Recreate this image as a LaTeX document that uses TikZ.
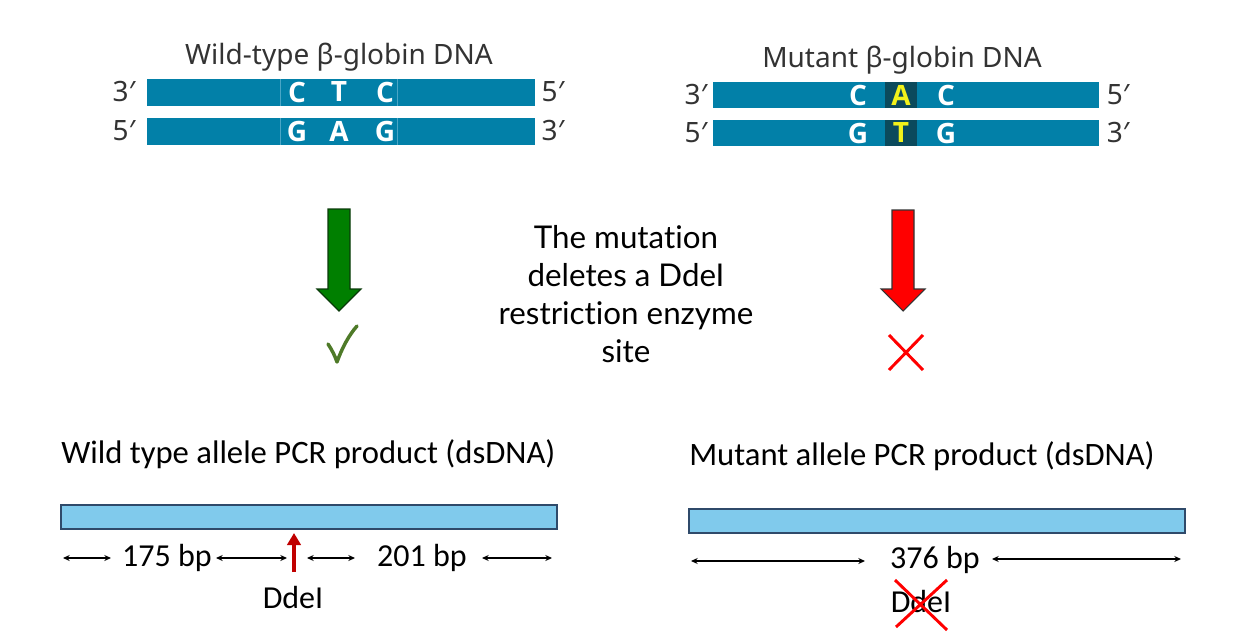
\documentclass[tikz,border=0pt]{standalone}
\usepackage{fontspec}
\setmainfont{Carlito}
\newfontfamily\frut{Noto Sans}
\newfontfamily\basefont{Open Sans}
\newfontfamily\tw[Ligatures=NoCommon]{Lato}
\usetikzlibrary{arrows.meta}
\definecolor{strand}{HTML}{0280A8}
\definecolor{strandline}{HTML}{4AA6C6}
\definecolor{darkbox}{HTML}{0B4A5C}
\definecolor{yel}{HTML}{F2F21A}
\definecolor{titlegray}{HTML}{333333}
\definecolor{barfill}{HTML}{80CAEC}
\definecolor{barline}{HTML}{2F4A6A}
\definecolor{okgreen}{HTML}{007F00}
\definecolor{okline}{HTML}{0A3A0A}
\definecolor{checkgreen}{HTML}{4E7A28}
\definecolor{ddered}{HTML}{C00000}
\tikzset{
  strandbox/.style={fill=strand, draw=none},
  base/.style={font=\basefont\bfseries\fontsize{21}{23}\selectfont, text=white, inner sep=0pt},
  mutbase/.style={base, text=yel},
  endlab/.style={font=\frut\fontsize{21}{23}\selectfont, text=titlegray, inner sep=0pt},
  dnatitle/.style={font=\frut\fontsize{21}{23}\selectfont, text=titlegray, inner sep=0pt},
  pcrbar/.style={fill=barfill, draw=barline, line width=1pt},
  pcrtitle/.style={font=\fontsize{24.5}{27}\selectfont, inner sep=0pt, anchor=west},
  bplab/.style={font=\fontsize{24}{26}\selectfont, inner sep=0pt},
  dim/.style={{Stealth[length=5pt,width=4.5pt]}-{Stealth[length=5pt,width=4.5pt]}, line width=0.8pt},
  bigarrow/.style={line width=0.8pt, line join=miter},
  xmark/.style={red, line width=2.2pt}
}
\begin{document}
\begin{tikzpicture}[x=0.75pt,y=-0.75pt]
\useasboundingbox (0,0) rectangle (1233,642);
% ---------- Wild-type DNA ----------
\node[dnatitle] (wtt) at (339,57) {Wild-type β-globin DNA};
\fill[strandbox] (147,79) rectangle (535,106);
\fill[strandbox] (147,118) rectangle (535,145);
\draw[strandline, line width=0.6pt] (280,79) -- (280,106) (397,79) -- (397,106)
  (280,118) -- (280,145) (397,118) -- (397,145);
\node[base] (w1) at (297,92) {C};
\node[base] (w2) at (339,92) {T};
\node[base] (w3) at (385,92) {C};
\node[base] (w4) at (297,131) {G};
\node[base] (w5) at (339,131) {A};
\node[base] (w6) at (385,131) {G};
\node[endlab] (wl1) at (124,92) {3′};
\node[endlab] (wr1) at (553,92) {5′};
\node[endlab] (wl2) at (124,131) {5′};
\node[endlab] (wr2) at (553,131) {3′};
% ---------- Mutant DNA ----------
\node[dnatitle] (mtt) at (902,60) {Mutant β-globin DNA};
\fill[strandbox] (713,82) rectangle (1099,108);
\fill[strandbox] (713,120) rectangle (1099,146);
\fill[darkbox] (885,82) rectangle (917,108);
\fill[darkbox] (885,120) rectangle (917,146);
\node[base] (m1) at (858,95) {C};
\node[mutbase] (m2) at (901,95) {A};
\node[base] (m3) at (946,95) {C};
\node[base] (m4) at (858,133) {G};
\node[mutbase] (m5) at (901,133) {T};
\node[base] (m6) at (946,133) {G};
\node[endlab] (ml1) at (696,95) {3′};
\node[endlab] (mr1) at (1118,95) {5′};
\node[endlab] (ml2) at (696,133) {5′};
\node[endlab] (mr2) at (1118,133) {3′};
% ---------- big arrows ----------
\draw[bigarrow, fill=okgreen, draw=okline] (328,209) -- (350,209) -- (350,289) -- (361,289) -- (339,311) -- (317,289) -- (328,289) -- cycle;
\draw[bigarrow, fill=red, draw=black!80] (892,210) -- (914,210) -- (914,289) -- (925,289) -- (903,311) -- (881,289) -- (892,289) -- cycle;
% check mark
\draw[checkgreen, line width=2.6pt, line cap=round, line join=round]
  (328,344) .. controls (332,350) and (335,356) .. (337,362) .. controls (342,348) and (349,335) .. (357,326);
% X mark
\draw[xmark] (889,335) -- (923,370) (923,335) -- (889,370);
% central text
\node[font=\tw\fontsize{23.5}{28.5}\selectfont, align=center, inner sep=0pt] (mid) at (626,294.5)
  {The mutation\\deletes a DdeI\\restriction enzyme\\site};
% ---------- Wild type PCR ----------
\node[pcrtitle] (wpt) at (61,454) {Wild type allele PCR product (dsDNA)};
\draw[pcrbar] (61,505) rectangle (557,529);
\node[bplab] (b175) at (167,558) {175 bp};
\node[bplab] (b201) at (422,558) {201 bp};
\coordinate (l1) at (63,558);
\coordinate (l2) at (111,558);
\coordinate (l3) at (216,558);
\coordinate (l4) at (287,558);
\coordinate (l5) at (307,558);
\coordinate (l6) at (355,558);
\coordinate (l7) at (482,558);
\coordinate (l8) at (552,558);
\draw[dim] (l1) -- (l2);
\draw[dim] (l3) -- (l4);
\draw[dim] (l5) -- (l6);
\draw[dim] (l7) -- (l8);
\coordinate (cutb) at (294,572);
\coordinate (cutt) at (294,533);
\draw[ddered, line width=3pt, -{Triangle[length=9pt,width=10pt]}] (cutb) -- (cutt);
\node[bplab] (dde1) at (293,597) {DdeI};
% ---------- Mutant PCR ----------
\node[pcrtitle] (mpt) at (689,456) {Mutant allele PCR product (dsDNA)};
\draw[pcrbar] (689,509) rectangle (1185,533);
\node[bplab] (b376) at (935,560) {376 bp};
\coordinate (r1) at (691,561);
\coordinate (r2) at (865,561);
\coordinate (r3) at (992,559);
\coordinate (r4) at (1181,559);
\draw[dim] (r1) -- (r2);
\draw[dim] (r3) -- (r4);
\node[bplab] (dde2) at (921,601) {DdeI};
\draw[xmark] (895,580) -- (947,630) (947,580) -- (896,627);
\end{tikzpicture}
\end{document}
